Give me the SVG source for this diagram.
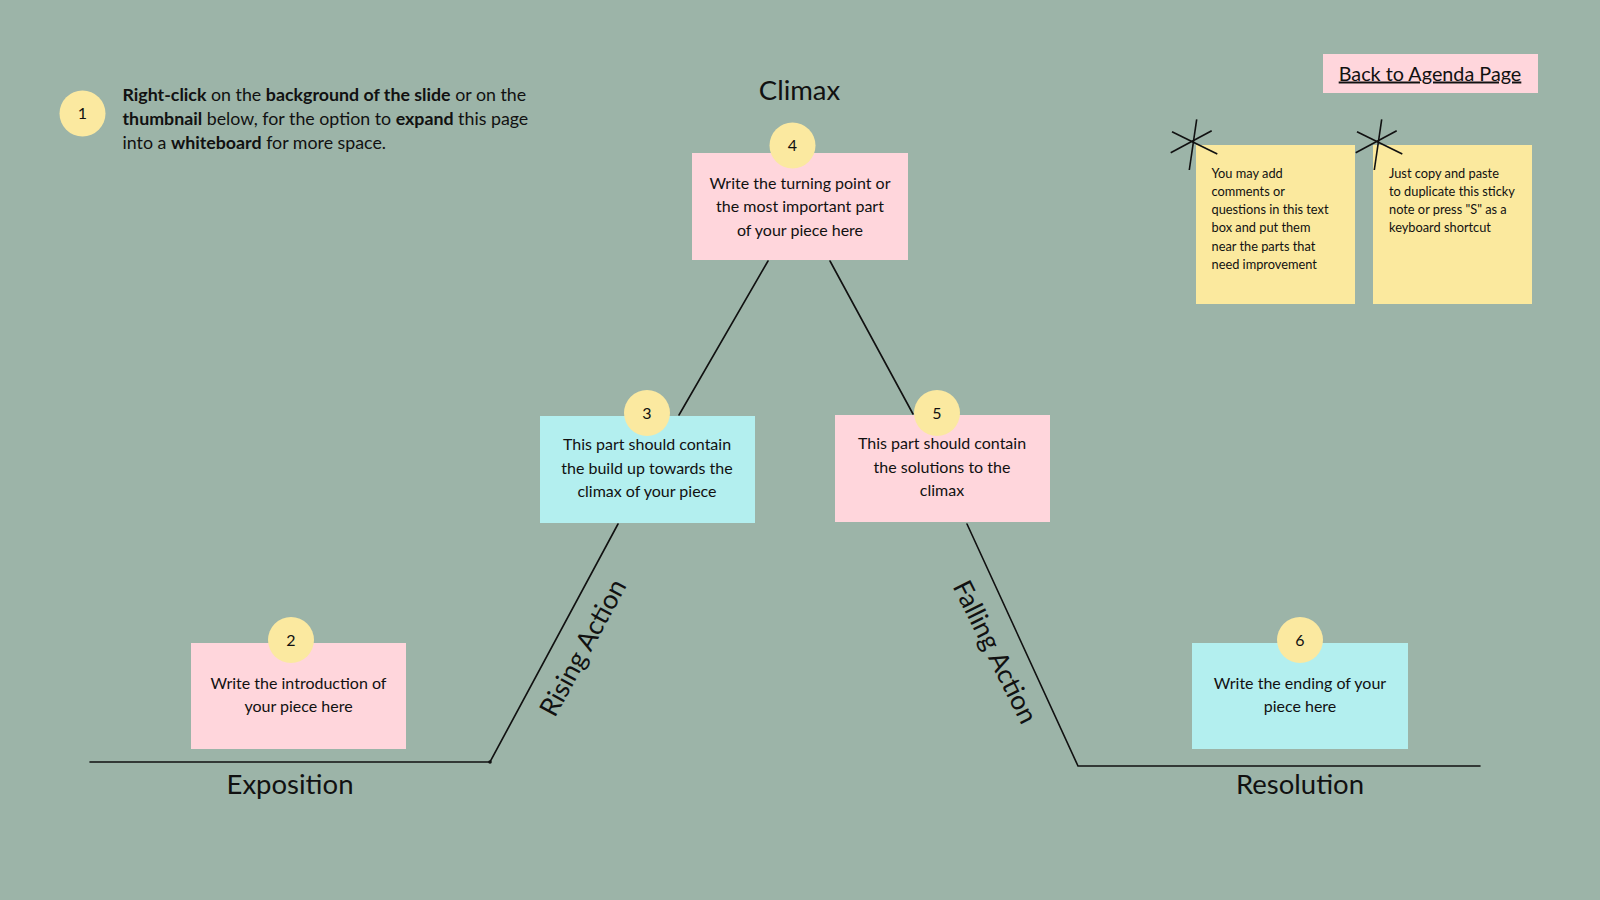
<svg xmlns="http://www.w3.org/2000/svg" width="1600" height="900" viewBox="0 0 1600 900">
<style>
.t{font-family:Lato,"Open Sans","Liberation Sans",sans-serif;fill:#111;}
.body{font-size:16px;text-anchor:middle;}
.para{font-size:17.8px;}
.lbl{font-size:27.5px;text-anchor:middle;}
.rot{font-size:26.5px;text-anchor:middle;}
.num{font-size:16px;text-anchor:middle;}
.note{font-size:12.8px;}
.pink{fill:#FFD6DC;}
.cyan{fill:#B3EFEF;}
.badge{fill:#FBE9A0;}
.sticky{fill:#FBE99E;}
.ln{stroke:#111;stroke-width:1.6;fill:none;stroke-linecap:round;}
.ast{stroke:#111;stroke-width:1.6;fill:none;}
</style>
<rect x="0" y="0" width="1600" height="900" fill="#9CB4A8"/>

<g id="connectors">
<polyline class="ln" points="90,762 490,762 618,524"/>
<line class="ln" x1="679" y1="415" x2="768" y2="261"/>
<line class="ln" x1="830" y1="261" x2="913" y2="414"/>
<polyline class="ln" points="967,524 1078,766 1480,766"/>
<circle cx="490" cy="762" r="1.8" fill="#111"/>
</g>

<g id="instructions">
<circle class="badge" cx="82.5" cy="113.5" r="23"/>
<text class="t num" x="82.5" y="119">1</text>
<text class="t para" x="122.5" y="100.5"><tspan font-weight="bold">Right-click</tspan> on the <tspan font-weight="bold">background of the slide</tspan> or on the</text>
<text class="t para" x="122.5" y="125"><tspan font-weight="bold">thumbnail</tspan> below, for the option to <tspan font-weight="bold">expand</tspan> this page</text>
<text class="t para" x="122.5" y="149">into a <tspan font-weight="bold">whiteboard</tspan> for more space.</text>
</g>

<g id="climax">
<text class="t lbl" x="799.5" y="100">Climax</text>
<rect class="pink" x="692" y="153" width="216" height="107"/>
<circle class="badge" cx="792.5" cy="145.5" r="23"/>
<text class="t num" x="792.5" y="151">4</text>
<text class="t body" x="800" y="188.5">Write the turning point or</text>
<text class="t body" x="800" y="212">the most important part</text>
<text class="t body" x="800" y="235.5">of your piece here</text>
</g>

<g id="rising">
<rect class="cyan" x="540" y="416" width="215" height="107"/>
<circle class="badge" cx="647" cy="413" r="23"/>
<text class="t num" x="647" y="418.5">3</text>
<text class="t body" x="647" y="450">This part should contain</text>
<text class="t body" x="647" y="473.5">the build up towards the</text>
<text class="t body" x="647" y="497">climax of your piece</text>
<text class="t rot" transform="translate(591,652) rotate(-61.5)" x="0" y="0">Rising Action</text>
</g>

<g id="falling">
<rect class="pink" x="835" y="415" width="215" height="107"/>
<circle class="badge" cx="937" cy="413" r="23"/>
<text class="t num" x="937" y="418.5">5</text>
<text class="t body" x="942" y="449">This part should contain</text>
<text class="t body" x="942" y="472.5">the solutions to the</text>
<text class="t body" x="942" y="496">climax</text>
<text class="t rot" transform="translate(987,656) rotate(63.5)" x="0" y="0">Falling Action</text>
</g>

<g id="exposition">
<rect class="pink" x="191" y="643" width="215" height="106"/>
<circle class="badge" cx="291" cy="640" r="23"/>
<text class="t num" x="291" y="645.5">2</text>
<text class="t body" x="298.5" y="688.5">Write the introduction of</text>
<text class="t body" x="298.5" y="712">your piece here</text>
<text class="t lbl" x="290" y="793.5">Exposition</text>
</g>

<g id="resolution">
<rect class="cyan" x="1192" y="643" width="216" height="106"/>
<circle class="badge" cx="1300" cy="640" r="23"/>
<text class="t num" x="1300" y="645.5">6</text>
<text class="t body" x="1300" y="688.5">Write the ending of your</text>
<text class="t body" x="1300" y="712">piece here</text>
<text class="t lbl" x="1300" y="793.5">Resolution</text>
</g>

<g id="back-link">
<rect class="pink" x="1323" y="54" width="215" height="39"/>
<text class="t" font-size="19.8" text-anchor="middle" x="1430" y="80.5" text-decoration="underline">Back to Agenda Page</text>
</g>

<g id="sticky-1">
<rect class="sticky" x="1196" y="145" width="159" height="159"/>
<line class="ast" x1="1196.7" y1="119.3" x2="1189.3" y2="170"/>
<line class="ast" x1="1172" y1="131.7" x2="1217.3" y2="154"/>
<line class="ast" x1="1211.7" y1="130.7" x2="1170.7" y2="152.7"/>
<text class="t note" x="1211.5" y="177.5">You may add</text>
<text class="t note" x="1211.5" y="195.8">comments or</text>
<text class="t note" x="1211.5" y="214.1">questions in this text</text>
<text class="t note" x="1211.5" y="232.4">box and put them</text>
<text class="t note" x="1211.5" y="250.7">near the parts that</text>
<text class="t note" x="1211.5" y="269">need improvement</text>
</g>

<g id="sticky-2">
<rect class="sticky" x="1373" y="145" width="159" height="159"/>
<line class="ast" x1="1381.7" y1="119.3" x2="1374.3" y2="170"/>
<line class="ast" x1="1357" y1="131.7" x2="1402.3" y2="154"/>
<line class="ast" x1="1396.7" y1="130.7" x2="1355.7" y2="152.7"/>
<text class="t note" x="1389" y="177.5">Just copy and paste</text>
<text class="t note" x="1389" y="195.8">to duplicate this sticky</text>
<text class="t note" x="1389" y="214.1">note or press "S" as a</text>
<text class="t note" x="1389" y="232.4">keyboard shortcut</text>
</g>
</svg>
